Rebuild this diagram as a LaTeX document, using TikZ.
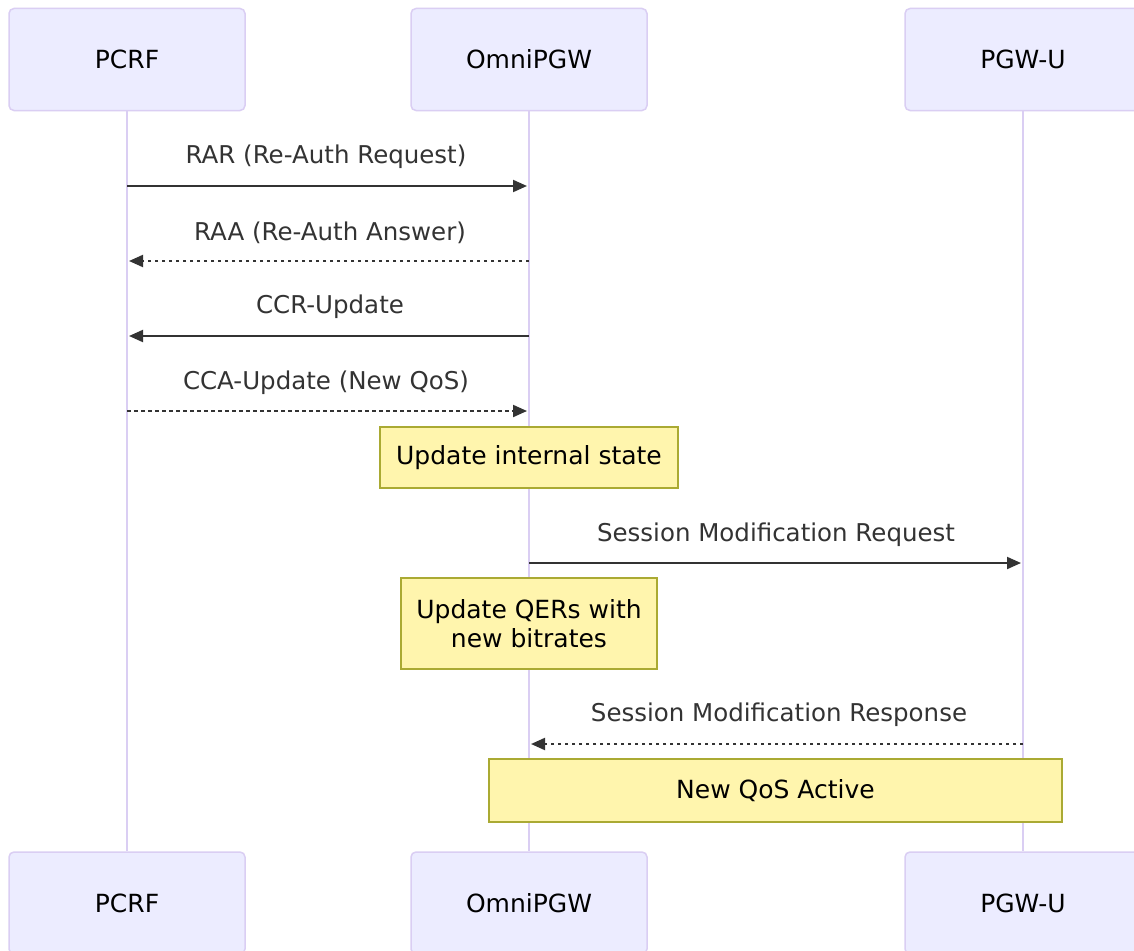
\documentclass[tikz,border=0pt]{standalone}
\usepackage{fontspec}
\setmainfont{DejaVu Sans}
\usetikzlibrary{arrows.meta,positioning}
\definecolor{ActorFill}{HTML}{ECECFF}
\definecolor{ActorLine}{HTML}{DACEF3}
\definecolor{NoteFill}{HTML}{FFF5AD}
\definecolor{NoteLine}{HTML}{AAAA33}
\definecolor{MsgInk}{HTML}{333333}
\tikzset{
  actor/.style={
    rounded corners=5pt, draw=ActorLine, line width=1.5pt, fill=ActorFill,
    minimum width=236pt, minimum height=102pt, align=center,
    font=\fontsize{25}{30}\selectfont
  },
  lifeline/.style={draw=ActorLine, line width=1.5pt},
  note/.style={
    draw=NoteLine, line width=1.2pt, fill=NoteFill, align=center,
    font=\fontsize{25}{29}\selectfont
  },
  msg/.style={-{Triangle[length=14pt,width=12pt]}, line width=2pt, draw=MsgInk},
  reply/.style={msg, dash pattern=on 3.5pt off 3.5pt},
  msglabel/.style={text=MsgInk, font=\fontsize{24.5}{29}\selectfont, inner sep=0pt}
}
\begin{document}
\begin{tikzpicture}[x=1pt,y=-1pt]
    \clip (0,0) rectangle (1134,950);
    \fill[white] (0,0) rectangle (1134,950);
    % actors
    \node[actor] (pcrfTop) at (127,59.5) {PCRF};
    \node[actor] (pgwTop) at (529,59.5) {OmniPGW};
    \node[actor] (upfTop) at (1023,59.5) {PGW-U};
    \node[actor] (pcrfBot) at (127,903) {PCRF};
    \node[actor] (pgwBot) at (529,903) {OmniPGW};
    \node[actor] (upfBot) at (1023,903) {PGW-U};
    \draw[lifeline] (pcrfTop.south)--(pcrfBot.north);
    \draw[lifeline] (pgwTop.south)--(pgwBot.north);
    \draw[lifeline] (upfTop.south)--(upfBot.north);
    % points on the lifelines
    \coordinate (p1) at (127,186);   \coordinate (g1) at (529,186);
    \coordinate (p2) at (127,261);   \coordinate (g2) at (529,261);
    \coordinate (p3) at (127,336);   \coordinate (g3) at (529,336);
    \coordinate (p4) at (127,411);   \coordinate (g4) at (529,411);
    \coordinate (g5) at (529,563);   \coordinate (u5) at (1023,563);
    \coordinate (g6) at (529,744);   \coordinate (u6) at (1023,744);
    % messages
    \draw[msg] (p1)--([xshift=-2pt]g1);
    \node[msglabel] (rar) at (326,157) {RAR (Re-Auth Request)};
    \draw[reply] (g2)--([xshift=2pt]p2);
    \node[msglabel] (raa) at (330,233) {RAA (Re-Auth Answer)};
    \draw[msg] (g3)--([xshift=2pt]p3);
    \node[msglabel] (ccr) at (330,307) {CCR-Update};
    \draw[reply] (p4)--([xshift=-2pt]g4);
    \node[msglabel] (cca) at (326,383) {CCA-Update (New QoS)};
    \node[note, minimum width=298pt, minimum height=61pt] (state) at (529,457.5) {Update internal state};
    \draw[msg] (g5)--([xshift=-2pt]u5);
    \node[msglabel] (smreq) at (776,535) {Session Modification Request};
    \node[note, minimum width=256pt, minimum height=91pt] (qers) at (529,623.5) {Update QERs with\\new bitrates};
    \draw[reply] (u6)--([xshift=2pt]g6);
    \node[msglabel] (smresp) at (779,715) {Session Modification Response};
    \node[note, minimum width=573pt, minimum height=63pt] (active) at (775.5,790.5) {New QoS Active};
\end{tikzpicture}
\end{document}
